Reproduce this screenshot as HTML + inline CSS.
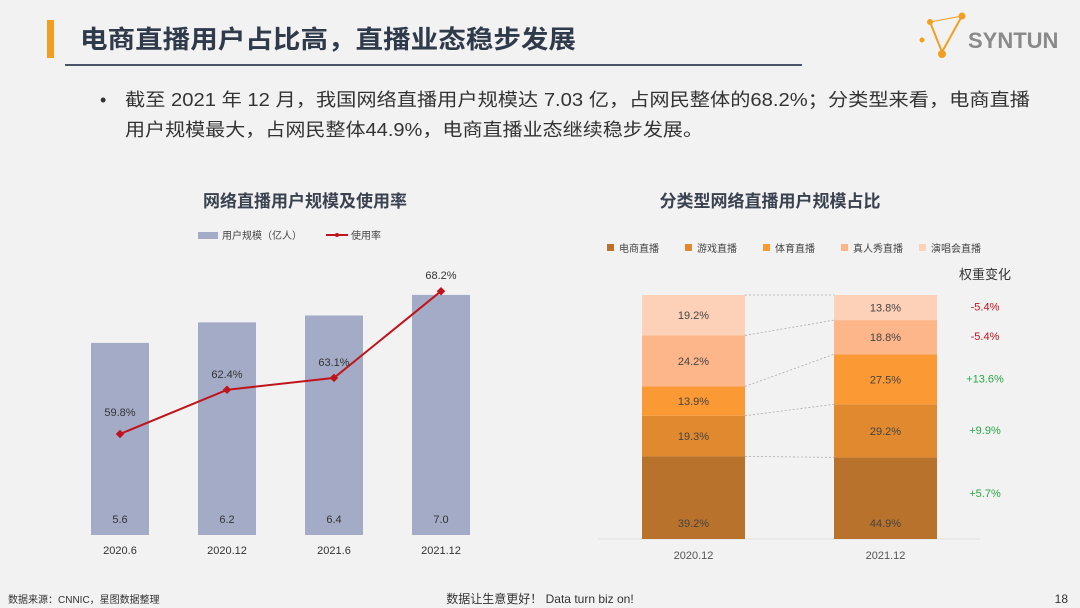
<!DOCTYPE html>
<html><head><meta charset="utf-8"><style>
body{margin:0;width:1080px;height:608px;background:#f2f2f2;overflow:hidden;font-family:"Liberation Sans","Noto Sans CJK SC",sans-serif;}
svg{position:absolute;left:0;top:0}
</style></head><body>
<svg id="s" width="1080" height="608" font-family="Liberation Sans, Noto Sans CJK SC, sans-serif">
<rect x="47" y="20" width="7" height="38" fill="#f0a020"/>
<text x="80" y="48" font-size="25" font-weight="bold" fill="#2f3a4a" textLength="496" lengthAdjust="spacingAndGlyphs">电商直播用户占比高，直播业态稳步发展</text>
<line x1="65" y1="65" x2="802" y2="65" stroke="#4a5568" stroke-width="2"/>
<g>
<line x1="930" y1="22" x2="942" y2="52" stroke="#f0a020" stroke-width="2"/><line x1="942" y1="52" x2="962" y2="16" stroke="#f0a020" stroke-width="2"/><line x1="930" y1="22" x2="962" y2="16" stroke="#f0a020" stroke-width="1"/>
<circle cx="930" cy="22" r="3" fill="#f0a020"/><circle cx="962" cy="16" r="3.5" fill="#f0a020"/><circle cx="942" cy="54" r="4" fill="#f0a020"/><circle cx="922" cy="40" r="2.5" fill="#f0a020"/>
<text x="968" y="48" font-size="22" font-weight="bold" fill="#8a8a8a">SYNTUN</text></g>
<text x="100" y="106" font-size="18" fill="#333">•</text>
<text x="125" y="106" font-size="18" fill="#333" textLength="905" lengthAdjust="spacingAndGlyphs">截至 2021 年 12 月，我国网络直播用户规模达 7.03 亿，占网民整体的68.2%；分类型来看，电商直播</text>
<text x="125" y="136" font-size="18" fill="#333" textLength="578" lengthAdjust="spacingAndGlyphs">用户规模最大，占网民整体44.9%，电商直播业态继续稳步发展。</text>
<text x="305" y="207" font-size="17" font-weight="bold" fill="#3a4250" text-anchor="middle">网络直播用户规模及使用率</text>
<rect x="198" y="232" width="20" height="7" fill="#a4abc6"/>
<text x="222" y="239" font-size="10" fill="#444">用户规模（亿人）</text>
<line x1="326" y1="235" x2="348" y2="235" stroke="#c0141c" stroke-width="2"/><circle cx="337" cy="235" r="2" fill="#c0141c"/>
<text x="351" y="239" font-size="10" fill="#444">使用率</text>
<text x="770" y="207" font-size="17" font-weight="bold" fill="#3a4250" text-anchor="middle">分类型网络直播用户规模占比</text>
<text x="985" y="279" font-size="13" fill="#333" text-anchor="middle">权重变化</text>
<line x1="598" y1="539" x2="980" y2="539" stroke="#e0e0e0"/>
<text x="8" y="603" font-size="10" fill="#333">数据来源：CNNIC，星图数据整理</text>
<text x="540" y="603" font-size="12" fill="#333" text-anchor="middle">数据让生意更好！ Data turn biz on!</text>
<text x="1068" y="603" font-size="12" fill="#333" text-anchor="end">18</text>
<g id="g"></g>
</svg>
<script>
const periods=["2020.6","2020.12","2021.6","2021.12"];
const users=[5.6,6.2,6.4,7.0];
const userLabels=["5.6","6.2","6.4","7.0"];
const rates=[59.8,62.4,63.1,68.2];
const cats=["电商直播","游戏直播","体育直播","真人秀直播","演唱会直播"];
const years=["2020.12","2021.12"];
const share2020=[39.2,19.3,13.9,24.2,19.2];
const share2021=[44.9,29.2,27.5,18.8,13.8];
const changes=["+5.7%","+9.9%","+13.6%","-5.4%","-5.4%"];
const colors=["#b8722c","#e0892f","#fb9935","#fdb68a","#fdd1b8"];
const NS="http://www.w3.org/2000/svg",G=document.getElementById('g');
function mk(t,a,txt){const e=document.createElementNS(NS,t);for(const k in a)e.setAttribute(k,a[k]);if(txt!=null)e.textContent=txt;G.appendChild(e);return e;}
const base=535, xL=i=>120+i*107, yU=v=>base-v*34.3, yR=v=>1450.6-v*17;
users.forEach((v,i)=>{
 const r=mk('rect',{x:xL(i)-29,y:yU(v),width:58,height:base-yU(v),fill:'#a4abc6'});
 
 
 const t=mk('text',{x:xL(i),y:523,'font-size':11,fill:'#333','text-anchor':'middle'},userLabels[i]);
 
 
 const p=mk('text',{x:xL(i),y:554,'font-size':11,fill:'#333','text-anchor':'middle'},periods[i]);
 
 
});
const pl=mk('polyline',{points:rates.map((v,i)=>xL(i)+','+yR(v)).join(' '),fill:'none',stroke:'#c0141c','stroke-width':2});


rates.forEach((v,i)=>{
 const m=mk('rect',{x:xL(i)-3,y:yR(v)-3,width:6,height:6,fill:'#c0141c',transform:`rotate(45 ${xL(i)} ${yR(v)})`});
 
 
 const t=mk('text',{x:xL(i),y:yR(v)-(i==0?18:12),'font-size':11,fill:'#333','text-anchor':'middle'},v.toFixed(1)+'%');
 
 
});
const rb=539,rh=244,xs=[642,834],bw=103;
const tops=[];
[share2020,share2021].forEach((arr,j)=>{
 const sum=arr.reduce((a,b)=>a+b,0);let y=rb;const ys=[];
 arr.forEach((v,k)=>{
  const h=v/sum*rh;y-=h;ys.push(y);
  const r=mk('rect',{x:xs[j],y:y,width:bw,height:h,fill:colors[k]});
  
  
  const ty=k==0?y+h-12:y+h/2+4;
  const t=mk('text',{x:xs[j]+bw/2,y:ty,'font-size':11,fill:'#444','text-anchor':'middle'},v.toFixed(1)+'%');
  
  
 });
 tops.push(ys);
 const xl=mk('text',{x:xs[j]+bw/2,y:559,'font-size':11,fill:'#555','text-anchor':'middle'},years[j]);
 
 
});
tops[0].forEach((y,k)=>{
 const l=mk('line',{x1:xs[0]+bw,y1:y,x2:xs[1],y2:tops[1][k],stroke:'#aaa','stroke-dasharray':'2,2','stroke-width':0.8});
 
 
});
cats.forEach((c,k)=>{
 const lx=607+k*78;
 const s=mk('rect',{x:lx,y:244,width:7,height:7,fill:colors[k]});
 
 
 const t=mk('text',{x:lx+12,y:252,'font-size':10,fill:'#444'},c);
 
 
 const y0=k==0?rb:tops[1][k-1];
 const cy=(y0+tops[1][k])/2+(k==0?-1:3);
 const ct=mk('text',{x:985,y:cy,'font-size':11,fill:changes[k][0]=='+'?'#2aa54a':'#c0141c','text-anchor':'middle'},changes[k]);
 
 
});
</script>
</body></html>
